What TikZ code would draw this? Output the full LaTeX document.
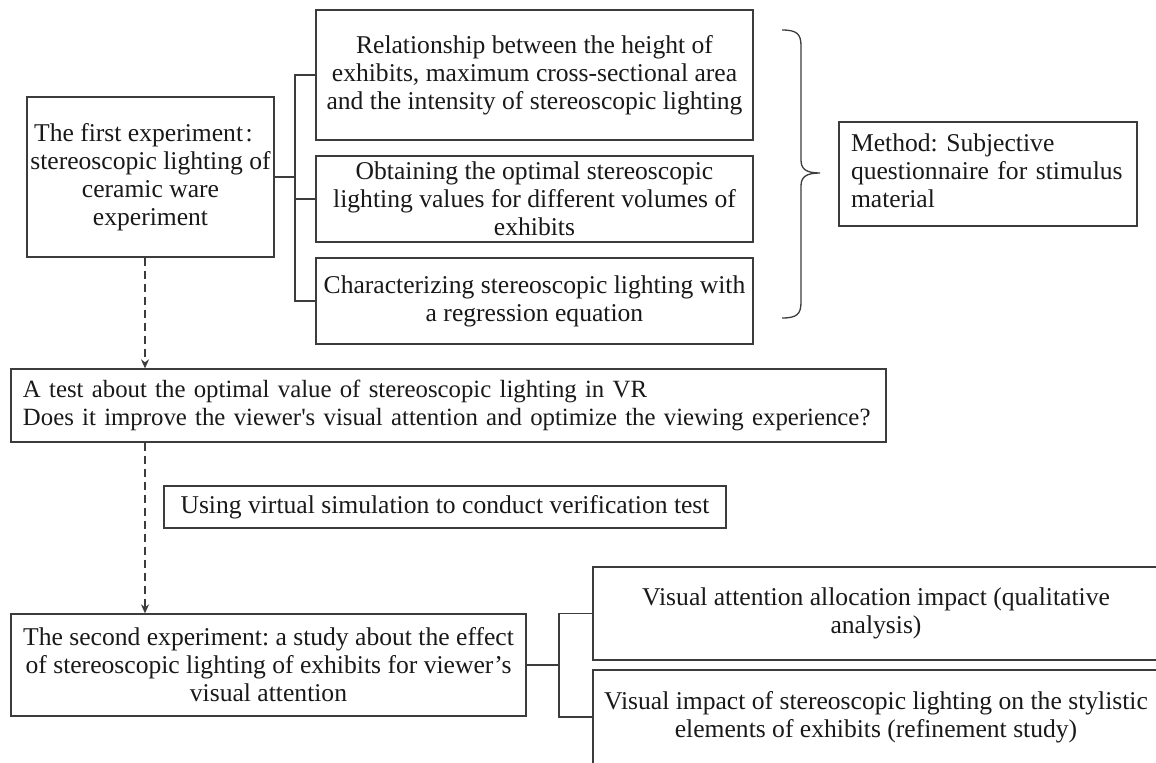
\documentclass[tikz,border=0pt]{standalone}
\usepackage{fontspec}
\setmainfont{Liberation Serif}
\newfontfamily\plainserif{Liberation Serif}
\usetikzlibrary{arrows.meta}
\definecolor{ln}{RGB}{60,60,60}
\begin{document}
\begin{tikzpicture}[x=0.5pt,y=-0.5pt,
  box/.style={draw=ln, line width=0.65pt, inner sep=0pt, align=center,
    font=\fontsize{12.8pt}{14pt}\selectfont\frenchspacing, text=black!90},
  lbox/.style={box, align=left, inner xsep=6pt},
  conn/.style={draw=ln, line width=0.65pt},
  dashconn/.style={conn, dash pattern=on 4pt off 2.5pt, -{Stealth[length=4.5pt,width=4pt]}}]
\useasboundingbox (0,0) rectangle (1156,762);
\clip (0,0) rectangle (1156,762);
\fill[white] (0,0) rectangle (1156,762);

% top group
\node[box, minimum width=123.5pt, minimum height=80pt] (A) at (150.5,177)
  {The first experiment\kern0.1em:\kern0.55em\\stereoscopic lighting of\\ceramic ware\\experiment};
\node[box, minimum width=218.5pt, minimum height=65pt] (R1) at (534.5,75)
  {Relationship between the height of\\exhibits, maximum cross-sectional area\\and the intensity of stereoscopic lighting};
\node[box, minimum width=218.5pt, minimum height=43pt] (R2) at (534.5,199)
  {Obtaining the optimal stereoscopic\\lighting values for different volumes of\\exhibits};
\node[box, minimum width=218.5pt, minimum height=43pt] (R3) at (534.5,301)
  {Characterizing stereoscopic lighting with\\a regression equation};
\node[lbox, minimum height=52pt, text width=137pt] (M) at (988,174)
  {\begin{tabular}{@{}l@{}}Method: Subjective\\questionnaire for stimulus\\material\end{tabular}};

% middle
\node[lbox, minimum height=36.5pt, text width=425.5pt, font=\fontsize{12.4pt}{14pt}\selectfont\frenchspacing] (B) at (448.5,405.5)
  {\begin{tabular}{@{}l@{}}A test about the optimal value of stereoscopic lighting in VR\\Does it improve the viewer{\plainserif '}s visual attention and optimize the viewing experience?\end{tabular}};
\node[box, minimum width=281pt, minimum height=21pt] (U) at (445,507)
  {Using virtual simulation to conduct verification test};

% bottom group
\node[box, minimum width=257.5pt, minimum height=51pt] (C) at (268.5,665)
  {The second experiment: a study about the effect\\of stereoscopic lighting of exhibits for viewer’s\\visual attention};
\node[box, minimum width=283pt, minimum height=46.5pt] (V1) at (876,613.5)
  {Visual attention allocation impact (qualitative\\analysis)};
\node[box, minimum width=283pt, minimum height=47pt] (V2) at (876,717)
  {Visual impact of stereoscopic lighting on the stylistic\\elements of exhibits (refinement study)};

% tree connectors
\coordinate (j1) at (295,177);
\draw[conn] (A.east) -- (j1);
\draw[conn] (R1.west) -| (j1);
\draw[conn] (R2.west) -| (j1);
\draw[conn] (R3.west) -| (j1);

\coordinate (j2) at (559,665);
\draw[conn] (C.east) -- (j2);
\draw[conn] (V1.west) -| (j2);
\draw[conn] (V2.west) -| (j2);

% dashed arrows
\coordinate (dx) at (145,0);
\draw[dashconn] (A.south -| dx) -- (B.north -| dx);
\draw[dashconn] (B.south -| dx) -- (C.north -| dx);

% brace
\draw[conn] (782,30) .. controls (797,30) and (801,34) .. (801,46)
  -- (801,160) .. controls (801,169) and (806,173) .. (820,173)
  .. controls (806,173) and (801,177) .. (801,186)
  -- (801,302) .. controls (801,314) and (797,318) .. (782,318);
\end{tikzpicture}
\end{document}
